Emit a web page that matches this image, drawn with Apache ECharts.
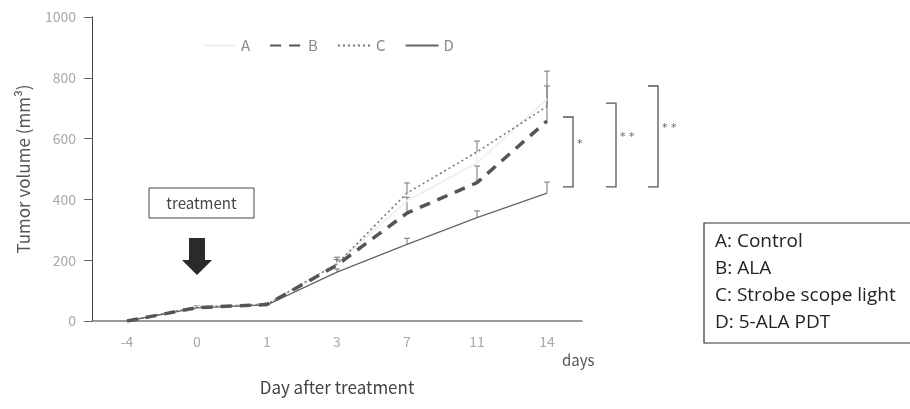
<!DOCTYPE html>
<html>
<head>
<meta charset="utf-8">
<script src="https://cdn.jsdelivr.net/npm/echarts@6/dist/echarts.min.js"></script>
<style>
  html, body { margin: 0; padding: 0; background: #fff; }
  #chart { width: 910px; height: 409px; }
</style>
</head>
<body>
<div id="chart"></div>
<script>
// Days relative to treatment
const days = ['-4', '0', '1', '3', '7', '11', '14'];

// Mean tumor volume (mm³) per group
const groupA = [0, 48, 55, 190, 395, 520, 730];
const groupB = [0, 44, 54, 184, 355, 455, 658];
const groupC = [0, 46, 55, 188, 421, 556, 706];
const groupD = [0, 43, 53, 161, 252, 340, 421];

// Upper error (mm³) per group
const errA = [0, 4, 4, 15, 30, 35, 50];
const errB = [0, 4, 4, 18, 52, 55, 115];
const errC = [0, 4, 4, 22, 33, 36, 116];
const errD = [0, 3, 3, 10, 20, 22, 36];

const yTicks = [0, 200, 400, 600, 800, 1000];

// Group descriptions in the key box
const groupNames = ['A: Control', 'B: ALA', 'C: Strobe scope light', 'D: 5-ALA PDT'];

// Significance brackets: top value, lower value, mark
const brackets = [
  { top: 671, bottom: 441, mark: '*', x: 573 },
  { top: 717, bottom: 441, mark: '* *', x: 616 },
  { top: 773, bottom: 441, mark: '* *', x: 658 }
];

const chart = echarts.init(document.getElementById('chart'));

function errorSeries(name, means, errs, color) {
  return {
    type: 'custom',
    name: name,
    z: 1,
    silent: true,
    data: means.map((m, i) => [i, m, m + errs[i]]),
    renderItem: function (params, api) {
      const base = api.coord([api.value(0), api.value(1)]);
      const top = api.coord([api.value(0), api.value(2)]);
      if (Math.abs(base[1] - top[1]) < 1) return null;
      const half = 3;
      return {
        type: 'group',
        children: [
          { type: 'line', shape: { x1: base[0], y1: base[1], x2: top[0], y2: top[1] },
            style: { stroke: color, lineWidth: 1 } },
          { type: 'line', shape: { x1: top[0] - half, y1: top[1], x2: top[0] + half, y2: top[1] },
            style: { stroke: color, lineWidth: 1 } }
        ]
      };
    }
  };
}

const tickFont = '"Noto Sans CJK JP", "Noto Sans", sans-serif';

chart.setOption({
  animation: false,
  backgroundColor: '#ffffff',
  grid: { left: 92, right: 328, top: 17, bottom: 88 },
  legend: {
    data: ['A', 'B', 'C', 'D'],
    left: 197,
    top: 33,
    itemWidth: 33,
    itemHeight: 12,
    itemGap: 19,
    itemStyle: { opacity: 0 },
    textStyle: { color: '#8a8a8a', fontSize: 15, fontFamily: tickFont }
  },
  xAxis: {
    type: 'category',
    data: days,
    boundaryGap: true,
    axisLine: { lineStyle: { color: '#777', width: 1.5 } },
    axisTick: { show: false },
    axisLabel: { color: '#a8a8a8', fontSize: 14, margin: 14, fontFamily: tickFont },
    name: 'Day after treatment',
    nameLocation: 'middle',
    nameGap: 58,
    nameTextStyle: { color: '#444', fontSize: 17, fontFamily: tickFont }
  },
  yAxis: {
    type: 'value',
    min: 0,
    max: 1000,
    interval: 200,
    splitLine: { show: false },
    axisLine: { show: true, lineStyle: { color: '#444', width: 1 } },
    axisTick: { show: true, length: 8, lineStyle: { color: '#666' } },
    axisLabel: { color: '#a8a8a8', fontSize: 14, margin: 16, fontFamily: tickFont,
      formatter: v => yTicks.includes(v) ? String(v) : '' },
    name: 'Tumor volume (mm³)',
    nameLocation: 'middle',
    nameRotate: 90,
    nameGap: 60,
    nameTextStyle: { color: '#555', fontSize: 17, fontFamily: tickFont }
  },
  series: [
    errorSeries('errA', groupA, errA, '#eeeeee'),
    errorSeries('errB', groupB, errB, '#777'),
    errorSeries('errC', groupC, errC, '#777'),
    errorSeries('errD', groupD, errD, '#777'),
    { name: 'A', type: 'line', data: groupA, symbol: 'none', z: 2,
      lineStyle: { color: '#f0f0f0', width: 2, type: 'solid' }, itemStyle: { color: '#f0f0f0' } },
    { name: 'B', type: 'line', data: groupB, symbol: 'none', z: 4,
      lineStyle: { color: '#555', width: 3.5, type: [11, 8] }, itemStyle: { color: '#555' } },
    { name: 'C', type: 'line', data: groupC, symbol: 'none', z: 3,
      lineStyle: { color: '#777', width: 1.6, type: [2, 3] }, itemStyle: { color: '#777' } },
    { name: 'D', type: 'line', data: groupD, symbol: 'none', z: 3,
      lineStyle: { color: '#666', width: 1.3, type: 'solid' }, itemStyle: { color: '#666' } }
  ]
});

// Annotations placed from axis values
const gfx = [];
brackets.forEach(b => {
  const yt = chart.convertToPixel({ yAxisIndex: 0 }, b.top);
  const yb = chart.convertToPixel({ yAxisIndex: 0 }, b.bottom);
  gfx.push({
    type: 'polyline',
    shape: { points: [[b.x - 10, yt], [b.x, yt], [b.x, yb], [b.x - 10, yb]] },
    style: { stroke: '#555', lineWidth: 1.3, fill: null }
  });
  gfx.push({
    type: 'text',
    x: b.x + 4,
    y: (yt + yb) / 2 - 8,
    style: { text: b.mark, fill: '#666', font: '11px "DejaVu Sans", sans-serif', textAlign: 'left', textVerticalAlign: 'middle' }
  });
});

// Treatment marker above day 0
const x0 = chart.convertToPixel({ xAxisIndex: 0 }, '0');
gfx.push({
  type: 'rect',
  shape: { x: 149, y: 188, width: 105, height: 30 },
  style: { stroke: '#444', lineWidth: 1, fill: '#fff' }
});
gfx.push({
  type: 'text', x: 201.5, y: 203,
  style: { text: 'treatment', fill: '#444', font: '15px ' + tickFont, textAlign: 'center', textVerticalAlign: 'middle' }
});
gfx.push({
  type: 'polygon',
  shape: { points: [[x0 - 8, 238], [x0 + 8, 238], [x0 + 8, 260], [x0 + 15, 260], [x0, 275], [x0 - 15, 260], [x0 - 8, 260]] },
  style: { fill: '#2a2a2a' }
});

// Unit label next to the last day
const x14 = chart.convertToPixel({ xAxisIndex: 0 }, '14');
gfx.push({
  type: 'text', x: x14 + 15, y: 360,
  style: { text: 'days', fill: '#555', font: '15px ' + tickFont, textAlign: 'left', textVerticalAlign: 'middle' }
});

// Group key box (runs off the right edge)
gfx.push({
  type: 'rect',
  shape: { x: 704, y: 223, width: 240, height: 120 },
  style: { stroke: '#333', lineWidth: 1.2, fill: '#fff' }
});
groupNames.forEach((t, i) => {
  gfx.push({
    type: 'text', x: 715, y: 242 + i * 27,
    style: { text: t, fill: '#222', font: '19px "Open Sans", sans-serif', textAlign: 'left', textVerticalAlign: 'middle' }
  });
});

chart.setOption({ graphic: gfx });
</script>
</body>
</html>
